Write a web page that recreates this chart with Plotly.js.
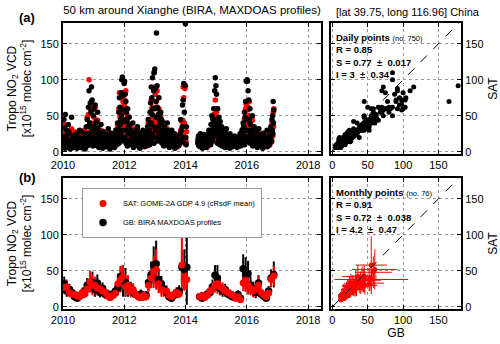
<!DOCTYPE html>
<html><head><meta charset="utf-8">
<script src="https://cdn.plot.ly/plotly-3.0.1.min.js"></script>
<style>html,body{margin:0;padding:0;background:#fff}#c{width:500px;height:344px}</style>
</head><body><div id="c"></div>
<script>
// ---- Daily points (decimal year, GB = MAXDOAS, SAT = GOME-2A), set A ----
const date2010=[2010.03,2010.05,2010.08,2010.10,2010.12,2010.15,2010.17,2010.20,2010.22,2010.25,2010.28,2010.31,2010.34,2010.37,2010.40,2010.43,2010.46,2010.49,2010.52,2010.55,2010.58,2010.61,2010.64,2010.67,2010.70,2010.73,2010.76,2010.79,2010.81,2010.83,2010.85,2010.87,2010.89,2010.91,2010.93,2010.95,2010.97,2010.99];
const gb2010=[45,20,52,12,30,8,38,15,25,10,48,18,6,22,14,9,26,12,20,7,17,28,11,5,24,14,35,45,20,62,85,40,68,55,90,72,30,50];
const sat2010=[38,25,30,8,22,12,20,18,14,20,32,10,9,28,12,18,15,6,24,10,13,20,16,8,30,9,26,48,15,52,100,35,60,40,70,58,25,62];

const date2011=[2011.01,2011.03,2011.05,2011.07,2011.09,2011.11,2011.13,2011.15,2011.18,2011.21,2011.24,2011.27,2011.30,2011.33,2011.36,2011.39,2011.42,2011.45,2011.48,2011.51,2011.54,2011.57,2011.60,2011.63,2011.66,2011.69,2011.72,2011.75,2011.78,2011.80,2011.82,2011.84,2011.86,2011.88,2011.90,2011.92,2011.94,2011.96,2011.98,2011.995];
const gb2011=[60,35,65,25,42,18,55,30,22,12,38,16,8,28,19,10,24,14,32,9,18,26,12,7,20,15,30,22,40,28,55,75,62,45,82,100,104,78,58,95];
const sat2011=[48,40,62,20,35,22,44,28,16,15,30,12,10,22,14,8,20,18,25,12,14,20,9,10,16,12,24,18,35,25,60,82,48,50,60,82,75,70,55,65];

const date2012=[2012.01,2012.03,2012.05,2012.07,2012.09,2012.11,2012.13,2012.16,2012.19,2012.22,2012.25,2012.28,2012.31,2012.34,2012.37,2012.40,2012.43,2012.46,2012.49,2012.52,2012.55,2012.58,2012.61,2012.64,2012.67,2012.70,2012.73,2012.76,2012.78,2012.80,2012.82,2012.84,2012.86,2012.88,2012.90,2012.92,2012.94,2012.96,2012.98,2012.995];
const gb2012=[98,80,70,55,42,60,35,48,25,30,18,40,12,22,28,15,35,10,20,26,8,16,30,12,22,18,14,35,45,28,38,55,68,90,75,103,60,85,110,115];
const sat2012=[72,62,85,45,38,50,30,35,20,26,15,32,14,18,24,12,28,8,16,22,10,13,24,15,18,14,12,28,40,25,30,45,55,72,60,62,50,110,85,90];

const date2013=[2013.01,2013.03,2013.05,2013.07,2013.09,2013.11,2013.13,2013.15,2013.17,2013.19,2013.22,2013.25,2013.28,2013.31,2013.34,2013.37,2013.40,2013.43,2013.46,2013.49,2013.52,2013.55,2013.58,2013.61,2013.64,2013.67,2013.70,2013.73,2013.76,2013.80,2013.84,2013.87,2013.90,2013.92,2013.94,2013.96,2013.98,2013.995];
const gb2013=[88,70,165,92,60,52,75,45,38,55,30,42,22,35,18,28,40,15,24,12,20,30,10,18,25,14,8,20,16,12,45,30,65,72,95,55,92,178];
const sat2013=[80,62,70,85,48,45,60,40,30,50,26,35,18,30,20,22,32,12,20,10,16,24,8,15,20,12,6,16,14,10,30,42,44,90,75,40,88,92];

const date2014=[2014.01,2014.03,2014.40,2014.42,2014.44,2014.46,2014.48,2014.50,2014.52,2014.54,2014.56,2014.58,2014.60,2014.62,2014.64,2014.66,2014.68,2014.70,2014.72,2014.74,2014.76,2014.78,2014.80,2014.83,2014.86,2014.89,2014.92,2014.95,2014.97,2014.99];
const gb2014=[20,35,12,22,8,18,25,10,15,20,6,14,24,9,17,12,22,8,16,20,30,14,26,38,50,45,60,85,103,92];
const sat2014=[15,28,15,18,10,22,20,8,18,16,9,12,20,12,14,10,18,6,20,15,24,18,22,30,38,48,52,50,72,60];

const date2015=[2015.01,2015.03,2015.05,2015.07,2015.09,2015.11,2015.13,2015.15,2015.18,2015.21,2015.24,2015.27,2015.30,2015.33,2015.36,2015.39,2015.42,2015.45,2015.48,2015.51,2015.54,2015.57,2015.60,2015.63,2015.66,2015.69,2015.72,2015.75,2015.78,2015.81,2015.84,2015.86,2015.88,2015.90,2015.92,2015.94,2015.96,2015.98];
const gb2015=[80,45,60,38,48,30,42,25,35,18,28,15,22,32,12,20,10,25,16,8,18,12,22,14,9,20,15,12,25,18,30,22,40,35,55,48,70,98];
const sat2015=[55,40,48,30,38,32,30,20,28,15,22,18,16,26,14,15,8,20,12,10,14,16,18,12,8,15,12,10,20,14,25,18,32,28,45,38,60,66];

const date2016=[2016.01,2016.02,2016.04,2016.06,2016.08,2016.10,2016.12,2016.15,2016.18,2016.21,2016.24,2016.27,2016.30,2016.33,2016.36,2016.39,2016.42,2016.45,2016.48,2016.51,2016.54,2016.57,2016.60,2016.63,2016.66,2016.69,2016.72,2016.75,2016.78,2016.80,2016.82,2016.84,2016.86,2016.88];
const gb2016=[100,98,85,72,45,60,38,30,50,22,35,15,28,10,20,32,12,24,18,8,26,14,20,10,30,16,22,12,35,28,45,50,70,58];
const sat2016=[60,58,62,50,70,40,34,25,44,18,28,20,22,12,16,26,10,20,15,8,22,12,16,9,24,14,18,10,30,22,40,42,55,60];

// ---- Daily points, set B (the dense low band) ----
const dateB2010=[2010.02,2010.04,2010.07,2010.09,2010.11,2010.14,2010.16,2010.19,2010.21,2010.24,2010.27,2010.30,2010.33,2010.36,2010.39,2010.42,2010.45,2010.48,2010.51,2010.54,2010.57,2010.60,2010.63,2010.66,2010.69,2010.72,2010.75,2010.78,2010.80,2010.82,2010.84,2010.86,2010.88,2010.90,2010.92,2010.94,2010.96,2010.98,2010.06,2010.18];
const gbB2010=[8,15,5,22,10,18,6,28,12,4,16,9,20,7,13,24,5,17,10,30,6,14,19,9,12,4,18,8,26,14,10,22,35,16,12,28,20,8,33,11];
const satB2010=[12,10,9,16,14,12,8,20,18,6,12,14,15,10,9,18,8,12,14,22,9,10,15,12,8,7,14,12,20,18,9,16,28,12,16,22,14,10,24,15];

const dateB2011=[2011.02,2011.04,2011.06,2011.08,2011.10,2011.12,2011.14,2011.17,2011.20,2011.23,2011.26,2011.29,2011.32,2011.35,2011.38,2011.41,2011.44,2011.47,2011.50,2011.53,2011.56,2011.59,2011.62,2011.65,2011.68,2011.71,2011.74,2011.77,2011.79,2011.81,2011.83,2011.85,2011.87,2011.89,2011.91,2011.93,2011.95,2011.97,2011.99,2011.16];
const gbB2011=[14,28,9,40,20,12,32,6,17,25,10,5,18,13,22,7,15,11,20,4,9,16,24,13,6,19,10,14,20,32,12,25,38,18,50,22,30,15,42,8];
const satB2011=[18,22,12,30,24,16,26,10,14,20,12,8,15,18,16,9,12,14,18,6,10,12,20,10,8,16,12,10,22,28,14,20,30,24,38,20,28,18,35,12];

const dateB2012=[2012.02,2012.04,2012.06,2012.08,2012.10,2012.12,2012.15,2012.18,2012.21,2012.24,2012.27,2012.30,2012.33,2012.36,2012.39,2012.42,2012.45,2012.48,2012.51,2012.54,2012.57,2012.60,2012.63,2012.66,2012.69,2012.72,2012.75,2012.77,2012.79,2012.81,2012.83,2012.85,2012.87,2012.89,2012.91,2012.93,2012.95,2012.97,2012.99,2012.14];
const gbB2012=[20,45,12,30,8,25,16,38,10,22,14,6,26,18,9,32,12,20,5,15,24,10,17,7,28,13,9,22,15,30,10,26,40,18,52,24,35,12,60,28];
const satB2012=[16,38,15,28,10,20,18,30,12,16,12,8,22,14,10,24,14,16,7,12,18,12,14,9,20,10,8,18,12,26,12,22,34,16,40,20,30,15,45,22];

const dateB2013=[2013.02,2013.04,2013.06,2013.08,2013.10,2013.12,2013.14,2013.16,2013.18,2013.20,2013.23,2013.26,2013.29,2013.32,2013.35,2013.38,2013.41,2013.44,2013.47,2013.50,2013.53,2013.56,2013.59,2013.62,2013.65,2013.68,2013.71,2013.74,2013.77,2013.82,2013.86,2013.89,2013.93,2013.97,2013.21,2013.27];
const gbB2013=[30,48,20,62,15,35,25,52,18,40,12,28,8,22,16,10,30,20,6,14,25,9,18,12,5,16,10,22,8,25,15,35,20,12,45,18];
const satB2013=[26,40,22,45,18,30,20,35,15,32,14,22,10,18,12,9,24,18,8,12,20,10,14,15,7,12,9,18,10,20,18,28,22,15,38,14];

const dateB2014=[2014.02,2014.41,2014.43,2014.45,2014.47,2014.49,2014.51,2014.53,2014.55,2014.57,2014.59,2014.61,2014.63,2014.65,2014.67,2014.69,2014.71,2014.73,2014.75,2014.77,2014.79,2014.81,2014.84,2014.87,2014.90,2014.93,2014.96,2014.98,2014.82,2014.88];
const gbB2014=[10,18,9,14,22,7,12,16,5,20,11,8,15,19,6,13,10,24,9,17,12,20,28,15,35,22,40,30,10,18];
const satB2014=[12,14,12,10,18,9,15,12,8,16,14,10,12,15,8,10,12,18,11,14,16,18,22,14,28,20,32,25,12,16];

const dateB2015=[2015.02,2015.04,2015.06,2015.08,2015.10,2015.12,2015.14,2015.17,2015.20,2015.23,2015.26,2015.29,2015.32,2015.35,2015.38,2015.41,2015.44,2015.47,2015.50,2015.53,2015.56,2015.59,2015.62,2015.65,2015.68,2015.71,2015.74,2015.77,2015.80,2015.83,2015.85,2015.87,2015.89,2015.91,2015.93,2015.95,2015.97,2015.99,2015.16,2015.19];
const gbB2015=[25,12,35,18,28,10,22,15,8,20,12,6,16,24,9,14,5,18,11,7,15,20,10,13,6,17,9,14,8,20,12,28,15,22,10,30,18,45,30,12];
const satB2015=[20,15,28,14,22,12,18,16,10,15,12,8,14,18,10,12,7,14,12,9,12,16,10,10,8,13,10,12,9,16,14,22,12,18,12,24,15,35,24,14];

const dateB2016=[2016.03,2016.05,2016.07,2016.09,2016.11,2016.13,2016.16,2016.19,2016.22,2016.25,2016.28,2016.31,2016.34,2016.37,2016.40,2016.43,2016.46,2016.49,2016.52,2016.55,2016.58,2016.61,2016.64,2016.67,2016.70,2016.73,2016.76,2016.79,2016.81,2016.83,2016.85,2016.87];
const gbB2016=[30,15,22,40,12,25,18,8,14,20,10,16,6,12,22,9,15,11,5,13,8,17,12,7,14,10,18,22,15,30,25,40];
const satB2016=[22,14,20,30,15,18,14,10,12,16,12,14,8,10,18,10,12,9,7,11,10,14,12,8,12,9,15,18,14,26,22,35];

// ---- Monthly means and standard deviations ----
const monthDate=[
2010.04,2010.12,2010.21,2010.29,2010.38,2010.46,2010.54,2010.63,2010.71,2010.79,2010.88,2010.96,
2011.04,2011.12,2011.21,2011.29,2011.38,2011.46,2011.54,2011.63,2011.71,2011.79,2011.88,2011.96,
2012.04,2012.12,2012.21,2012.29,2012.38,2012.46,2012.54,2012.63,2012.71,2012.79,2012.88,2012.96,
2013.04,2013.12,2013.21,2013.29,2013.38,2013.46,2013.54,2013.63,2013.71,2013.79,2013.88,2013.96,
2014.04,2014.46,2014.54,2014.63,2014.71,2014.79,2014.88,2014.96,
2015.04,2015.12,2015.21,2015.29,2015.38,2015.46,2015.54,2015.63,2015.71,2015.79,2015.88,2015.96,
2016.04,2016.12,2016.21,2016.29,2016.38,2016.46,2016.54,2016.63,2016.71,2016.79,2016.88];
const monthGB=[
32,22,24,20,14,12,15,18,22,30,33,34,
24,33,20,26,17,18,14,18,22,26,42,36,
34,28,25,20,17,15,18,14,16,34,45,58,
60,38,32,25,20,14,12,16,20,22,55,52,
55,14,12,15,18,20,28,44,
40,26,22,24,18,16,14,13,17,12,53,45,
46,30,25,20,33,18,15,12,22,40,45];
const monthGBsd=[
10,8,8,7,5,4,6,6,7,10,12,15,
10,12,7,8,6,6,5,6,8,10,15,22,
20,14,10,7,6,5,6,5,6,12,18,26,
32,15,11,8,7,5,4,6,7,8,22,28,
52,4,4,4,6,7,10,14,
18,10,8,8,6,6,5,4,6,4,20,24,
18,12,10,8,11,6,5,4,7,12,18];
const monthSAT=[
27,28,20,18,17,15,14,20,18,25,35,30,
30,26,25,22,20,15,13,16,19,32,38,42,
28,30,22,24,17,14,13,16,14,30,40,48,
52,32,24,22,22,16,14,18,20,18,58,38,
38,14,16,13,16,22,24,30,
32,28,25,22,20,18,16,12,14,10,33,37,
30,26,22,24,30,20,17,14,19,38,43];
const monthSATsd=[
9,10,7,7,6,6,5,7,6,10,15,14,
12,10,10,8,7,6,4,6,7,14,18,16,
13,14,9,9,6,6,5,6,5,10,14,22,
28,13,10,8,8,6,5,6,7,6,40,16,
14,4,4,4,5,8,8,10,
14,11,9,8,7,6,6,4,6,4,11,16,
13,10,9,10,13,7,6,5,6,11,14];

const yearTicks=[2010,2012,2014,2016,2018];
const valueTicks=[0,50,100,150];

const dailyDate=[].concat(date2010,dateB2010,date2011,dateB2011,date2012,dateB2012,date2013,dateB2013,date2014,dateB2014,date2015,dateB2015,date2016,dateB2016);
const dailyGB=[].concat(gb2010,gbB2010,gb2011,gbB2011,gb2012,gbB2012,gb2013,gbB2013,gb2014,gbB2014,gb2015,gbB2015,gb2016,gbB2016);
const dailySAT=[].concat(sat2010,satB2010,sat2011,satB2011,sat2012,satB2012,sat2013,satB2013,sat2014,satB2014,sat2015,satB2015,sat2016,satB2016);

const FONT='Liberation Sans, Arial, Helvetica, sans-serif';
const RED='#ff0000';

const traces=[
 {x:dailyDate,y:dailySAT,type:'scatter',mode:'markers',xaxis:'x',yaxis:'y',showlegend:false,
  marker:{color:RED,size:5.5}},
 {x:dailyDate,y:dailyGB,type:'scatter',mode:'markers',xaxis:'x',yaxis:'y',showlegend:false,
  marker:{color:'#000',size:5.5}},
 {x:dailyGB,y:dailySAT,type:'scatter',mode:'markers',xaxis:'x2',yaxis:'y2',showlegend:false,
  marker:{color:'#000',size:5}},
 {x:monthDate,y:monthGB,type:'scatter',mode:'markers',xaxis:'x3',yaxis:'y3',showlegend:false,
  marker:{color:'rgba(0,0,0,0)',size:1},
  error_y:{type:'data',array:monthGBsd,visible:true,color:'#000',thickness:2,width:0}},
 {x:monthDate,y:monthSAT,type:'scatter',mode:'markers',xaxis:'x3',yaxis:'y3',showlegend:false,
  marker:{color:'rgba(0,0,0,0)',size:1},
  error_y:{type:'data',array:monthSATsd,visible:true,color:RED,thickness:2,width:0}},
 {x:monthDate,y:monthGB,type:'scatter',mode:'markers',xaxis:'x3',yaxis:'y3',
  name:'GB: BIRA MAXDOAS profiles',legendrank:2,marker:{color:'#000',size:7.5}},
 {x:monthDate,y:monthSAT,type:'scatter',mode:'markers',xaxis:'x3',yaxis:'y3',
  name:'SAT: GOME-2A GDP 4.9 (cRsdF mean)',legendrank:1,marker:{color:RED,size:7}},
 {x:monthGB,y:monthSAT,type:'scatter',mode:'markers',xaxis:'x4',yaxis:'y4',showlegend:false,
  marker:{color:RED,size:5},
  error_x:{type:'data',array:monthGBsd,visible:true,color:RED,thickness:1,width:0},
  error_y:{type:'data',array:monthSATsd,visible:true,color:RED,thickness:1,width:0}}
];

function ax(o){
 return Object.assign({showline:true,linecolor:'#000',linewidth:2,mirror:'ticks',
  ticks:'inside',ticklen:4,tickwidth:1,tickcolor:'#000',
  showgrid:true,gridcolor:'#999',griddash:'dot',gridwidth:1,zeroline:false,
  tickfont:{size:11,color:'#000',family:FONT}},o);
}
const xL1=[0.126,0.642], xR1=[0.662,0.922];
const yT=[0.5523,0.9331], yB=[0.1017,0.4826];
const yTitle={text:'Tropo NO<sub>2</sub> VCD<br>[x10<sup>15</sup> molec cm<sup>-2</sup>]',font:{size:12,color:'#000'},standoff:6};

const layout={
 width:500,height:344,margin:{l:0,r:0,t:0,b:0},
 paper_bgcolor:'#fff',plot_bgcolor:'#fff',
 font:{family:FONT,color:'#000',size:11},
 title:{text:'50 km around Xianghe (BIRA, MAXDOAS profiles)',font:{size:11.5,color:'#000'},
  x:0.384,xanchor:'center',xref:'container',y:0.971,yanchor:'middle',yref:'container'},
 xaxis:ax({domain:xL1,anchor:'y',range:[2010,2018.42],tickvals:yearTicks}),
 yaxis:ax({domain:yT,anchor:'x',range:[-3,179],tickvals:valueTicks,title:yTitle}),
 xaxis2:ax({domain:xR1,anchor:'y2',range:[-2,182],tickvals:valueTicks}),
 yaxis2:ax({domain:yT,anchor:'x2',range:[-3,179],tickvals:valueTicks,side:'right',
  title:{text:'SAT',font:{size:12,color:'#000'},standoff:11}}),
 xaxis3:ax({domain:xL1,anchor:'y3',range:[2010,2018.42],tickvals:yearTicks}),
 yaxis3:ax({domain:yB,anchor:'x3',range:[-3,179],tickvals:valueTicks,title:yTitle}),
 xaxis4:ax({domain:xR1,anchor:'y4',range:[-2,182],tickvals:valueTicks,
  title:{text:'GB',font:{size:12,color:'#000'},standoff:3}}),
 yaxis4:ax({domain:yB,anchor:'x4',range:[-3,179],tickvals:valueTicks,side:'right',
  title:{text:'SAT',font:{size:12,color:'#000'},standoff:11}}),
 showlegend:true,
 legend:{x:0.164,y:0.4535,xanchor:'left',yanchor:'top',bgcolor:'#fff',bordercolor:'#999',borderwidth:1,
  font:{size:7.5,color:'#000'},itemwidth:30,tracegroupgap:0},
 shapes:[
  {type:'line',xref:'x2',yref:'y2',x0:0,y0:0,x1:182,y1:182,line:{color:'#000',width:1,dash:'dash'}},
  {type:'line',xref:'x4',yref:'y4',x0:0,y0:0,x1:182,y1:182,line:{color:'#000',width:1,dash:'dash'}}
 ],
 annotations:[
  {text:'[lat 39.75, long 116.96] China',xref:'paper',yref:'paper',x:0.816,y:0.965,xanchor:'center',yanchor:'middle',showarrow:false,font:{size:11}},
  {text:'<b>(a)</b>',xref:'paper',yref:'paper',x:0.054,y:0.948,xanchor:'center',yanchor:'middle',showarrow:false,font:{size:13}},
  {text:'<b>(b)</b>',xref:'paper',yref:'paper',x:0.054,y:0.485,xanchor:'center',yanchor:'middle',showarrow:false,font:{size:13}},
  {text:'<b>Daily points</b> <span style="font-size:7.5px">(no. 750)</span><br><b>R = 0.85</b><br><b>S = 0.77  ±  0.017</b><br><b>I = 3  ±  0.34</b>',
   xref:'paper',yref:'paper',x:0.668,y:0.912,xanchor:'left',yanchor:'top',align:'left',showarrow:false,font:{size:9.5}},
  {text:'<b>Monthly points</b> <span style="font-size:7.5px">(no. 76)</span><br><b>R = 0.91</b><br><b>S = 0.72  ±  0.038</b><br><b>I = 4.2  ±  0.47</b>',
   xref:'paper',yref:'paper',x:0.668,y:0.462,xanchor:'left',yanchor:'top',align:'left',showarrow:false,font:{size:9.5}}
 ]
};
Plotly.newPlot('c',traces,layout,{displayModeBar:false,staticPlot:true});
</script></body></html>
